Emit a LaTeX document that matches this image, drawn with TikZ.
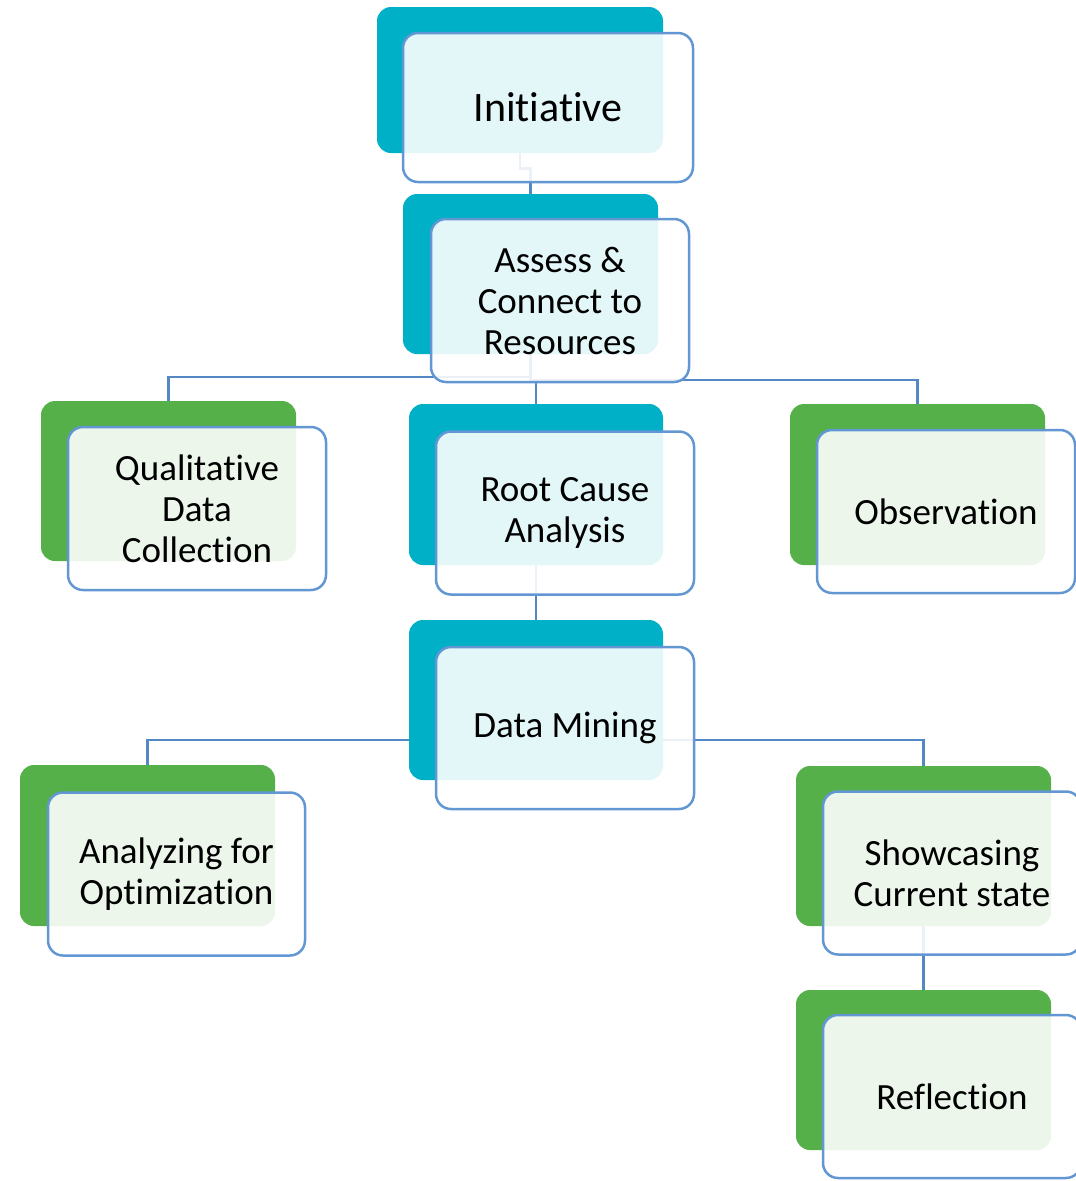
\documentclass[tikz,border=0pt]{standalone}
\usepackage{fontspec}
\setmainfont{Carlito}[Ligatures={NoCommon,NoContextual}]
\pgfdeclarelayer{background}
\pgfsetlayers{background,main}
\definecolor{tealc}{RGB}{0,176,198}
\definecolor{greenc}{RGB}{85,176,73}
\definecolor{edgec}{RGB}{98,151,211}
\definecolor{linkc}{RGB}{84,136,196}
\begin{document}
\begin{tikzpicture}[x=1pt,y=-1pt,
  backbox/.style={rectangle, rounded corners=14pt, inner sep=0pt, draw=none},
  tealbox/.style={backbox, fill=tealc},
  greenbox/.style={backbox, fill=greenc},
  frontbox/.style={rectangle, rounded corners=15pt, inner sep=0pt, draw=edgec, line width=2.5pt,
    fill=white, fill opacity=0.89, text opacity=1, align=center, text=black,
    font=\fontsize{37}{41}\selectfont, minimum width=258pt, minimum height=163pt},
  link/.style={draw=linkc, line width=2.7pt}]
\useasboundingbox (0,0) rectangle (1076,1181);
\clip (0,0) rectangle (1076,1181);
% Initiative
\node[tealbox, minimum width=286pt, minimum height=146pt] (initB) at (520,80) {};
\node[frontbox, minimum width=290pt, minimum height=149pt, font=\fontsize{42}{46}\selectfont] (initF) at (548,107.5) {Initiative};
% Assess
\node[tealbox, minimum width=255pt, minimum height=160pt] (assB) at (530.5,274) {};
\node[frontbox] (assF) at (560,300.5) {Assess \&\\Connect to\\Resources};
% Qualitative
\node[greenbox, minimum width=255pt, minimum height=160pt] (qualB) at (168.5,481) {};
\node[frontbox] (qualF) at (197,508.5) {Qualitative\\Data\\Collection};
% Root cause
\node[tealbox, minimum width=254pt, minimum height=161pt] (rootB) at (536,484.5) {};
\node[frontbox] (rootF) at (565,513) {Root Cause\\Analysis};
% Observation
\node[greenbox, minimum width=255pt, minimum height=161pt] (obsB) at (917.5,484.5) {};
\node[frontbox] (obsF) at (946,511.5) {Observation};
% Data mining
\node[tealbox, minimum width=254pt, minimum height=160pt] (dmB) at (536,700) {};
\node[frontbox, minimum height=162pt] (dmF) at (565,728) {Data Mining};
% Analyzing
\node[greenbox, minimum width=255pt, minimum height=161pt] (anaB) at (147.5,845.5) {};
\node[frontbox, minimum width=257pt] (anaF) at (176.5,874) {Analyzing for\\Optimization};
% Showcasing
\node[greenbox, minimum width=255pt, minimum height=160pt] (showB) at (923.5,846) {};
\node[frontbox] (showF) at (952,873) {Showcasing\\Current state};
% Reflection
\node[greenbox, minimum width=255pt, minimum height=160pt] (reflB) at (923.5,1070) {};
\node[frontbox] (reflF) at (952,1096.5) {Reflection};
% connectors
\begin{pgfonlayer}{background}
\draw[link] (initB.south) -- ++(0,15) -| (assB.north);
\draw[link] (assB.south) -- (assB.south |- 0,377) -| (qualB.north);
\draw[link] (assB.south |- 0,377) -- (assB.south |- 0,380) -| (obsB.north);
\draw[link] (rootB.north |- 0,380) -- (rootB.north);
\draw[link] (rootB.south) -- (dmB.north);
\draw[link] (dmB.west |- 0,740) -| (anaB.north);
\draw[link] (dmB.east |- 0,740) -| (showB.north);
\draw[link] (showB.south) -- (reflB.north);
\end{pgfonlayer}
\end{tikzpicture}
\end{document}
